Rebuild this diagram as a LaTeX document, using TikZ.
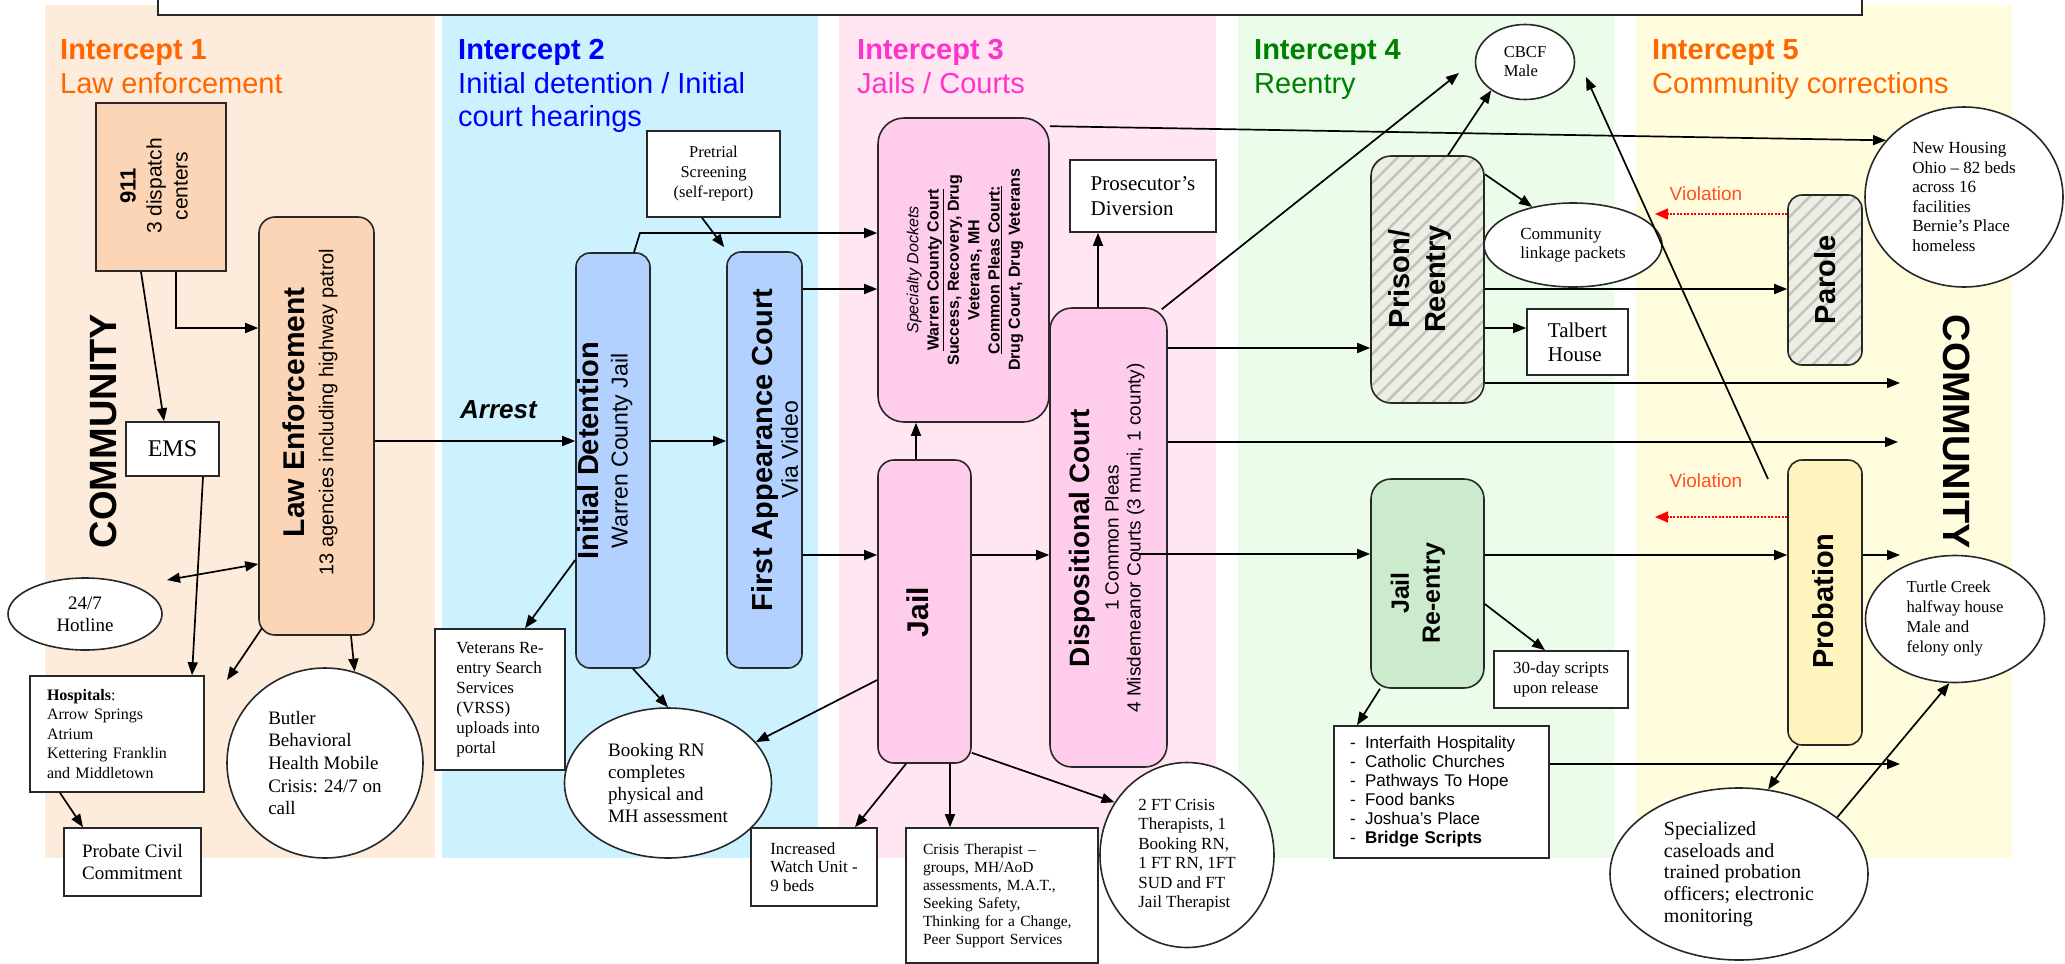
\documentclass[tikz,border=0pt]{standalone}
\usepackage{fontspec}
\setmainfont{Liberation Serif}
\setsansfont{Liberation Sans}
\usetikzlibrary{arrows.meta,shapes.geometric,patterns.meta,calc}
\newcommand{\fsz}[2]{\fontsize{#1}{#2}\selectfont}
\definecolor{bandA}{RGB}{253,235,219}
\definecolor{bandB}{RGB}{204,242,255}
\definecolor{bandC}{RGB}{255,230,242}
\definecolor{bandD}{RGB}{235,252,235}
\definecolor{bandE}{RGB}{255,253,222}
\definecolor{peachbox}{RGB}{251,213,181}
\definecolor{bluebox}{RGB}{179,209,255}
\definecolor{pinkbox}{RGB}{255,204,235}
\definecolor{greenbox}{RGB}{204,235,204}
\definecolor{yellowbox}{RGB}{255,244,190}
\definecolor{hatchbg}{RGB}{236,238,228}
\definecolor{hatchln}{RGB}{195,195,190}
\definecolor{icA}{RGB}{255,102,0}
\definecolor{icB}{RGB}{0,0,255}
\definecolor{icC}{RGB}{255,51,204}
\definecolor{icD}{RGB}{0,128,0}
\definecolor{violred}{RGB}{255,80,30}
\definecolor{lineclr}{RGB}{40,40,40}
\tikzset{
  conn/.style={draw=black, line width=1.7pt, -{Triangle[length=13pt,width=10pt]}},
  dconn/.style={draw=black, line width=1.7pt, {Triangle[length=13pt,width=10pt]}-{Triangle[length=13pt,width=10pt]}},
  vconn/.style={draw=red, line width=1.6pt, dash pattern=on 2pt off 1.5pt, -{Triangle[length=13pt,width=11pt]}},
  tbox/.style={draw=lineclr, line width=1.6pt, fill=white, rectangle, inner sep=0pt, align=left},
  oval/.style={draw=lineclr, line width=1.6pt, fill=white, ellipse, inner sep=0pt, align=left},
  rbox/.style={draw=lineclr, line width=1.6pt, rounded corners=#1, inner sep=0pt},
  rbox/.default=14pt,
  vtext/.style={rotate=90, align=center, inner sep=0pt},
  hatched/.style={preaction={fill=hatchbg}, preaction={pattern color=hatchln, pattern={Lines[angle=45,distance=11pt,line width=2.5pt]}}},
  head/.style={anchor=base west, inner sep=0pt, font=\sffamily\fsz{29}{33}},
}
\begin{document}
\begin{tikzpicture}[x=1pt,y=-1pt]
\useasboundingbox (0,0) rectangle (2065,964);
% bands
\fill[bandA] (45,5) rectangle (435,858);
\fill[bandB] (442,5) rectangle (818,858);
\fill[bandC] (839,5) rectangle (1216,858);
\fill[bandD] (1238,5) rectangle (1614,858);
\fill[bandE] (1636,5) rectangle (2012,858);
% title box (cut off at top)
\draw[draw=lineclr, line width=1.6pt, fill=white] (158,-40) rectangle (1862,15);
% headings
\node[head, text=icA] (h1a) at (60,59) {\bfseries Intercept 1};
\node[head, text=icA] (h1b) at (60,93) {Law enforcement};
\node[head, text=icB] (h2a) at (458,59) {\bfseries Intercept 2};
\node[head, text=icB] (h2b) at (458,93) {Initial detention / Initial};
\node[head, text=icB] (h2c) at (458,126) {court hearings};
\node[head, text=icC] (h3a) at (857,59) {\bfseries Intercept 3};
\node[head, text=icC] (h3b) at (857,93) {Jails / Courts};
\node[head, text=icD] (h4a) at (1254,59) {\bfseries Intercept 4};
\node[head, text=icD] (h4b) at (1254,93) {Reentry};
\node[head, text=icA] (h5a) at (1652,59) {\bfseries Intercept 5};
\node[head, text=icA] (h5b) at (1652,93) {Community corrections};
% community labels
\node[rotate=90, inner sep=0pt, font=\sffamily\bfseries\fsz{38}{40}] (comL) at (103,431) {COMMUNITY};
\node[rotate=-90, inner sep=0pt, font=\sffamily\bfseries\fsz{38}{40}] (comR) at (1957,432) {COMMUNITY};
% Intercept 1
\node[draw=lineclr, line width=1.6pt, fill=peachbox, minimum width=130pt, minimum height=168pt, inner sep=0pt] (n911) at (161,187) {};
\node[vtext, font=\sffamily\fsz{21}{26}] (n911t) at (154,186) {{\bfseries\fsz{22}{26}911}\\3 dispatch\\centers};
\node[rbox=16pt, fill=peachbox, minimum width=115pt, minimum height=418pt] (le) at (316.5,426) {};
\node[vtext, font=\sffamily\fsz{20}{29}] (let) at (310,412) {{\bfseries\fsz{30}{32}Law Enforcement}\\13 agencies including highway patrol};
\node[tbox, font=\fsz{24}{26}, minimum width=93pt, minimum height=54pt, align=center] (ems) at (172.5,449) {EMS};
\node[oval, font=\fsz{19}{22}, minimum width=154pt, minimum height=72pt, align=center] (hotline) at (85,614) {24/7\\Hotline};
\node[tbox, font=\fsz{16}{19.5}, minimum width=174pt, minimum height=116pt, text width=140pt] (hosp) at (117,734) {\textbf{Hospitals}:\\Arrow Springs\\Atrium\\Kettering Franklin\\and Middletown};
\node[tbox, font=\fsz{19}{22}, minimum width=137pt, minimum height=68pt] (probate) at (132.5,862) {Probate Civil\\Commitment};
\node[oval, font=\fsz{19}{22.7}, minimum width=196pt, minimum height=190pt] (butler) at (325,763) {Butler\\Behavioral\\Health Mobile\\Crisis: 24/7 on\\call};
% Intercept 2
\node[tbox, font=\fsz{17}{20}, minimum width=130pt, minimum height=141pt] (vrss) at (500,699.5) {Veterans Re-\\entry Search\\Services\\(VRSS)\\uploads into\\portal};
\node[rbox=14pt, fill=bluebox, minimum width=74pt, minimum height=415pt] (id) at (613,460.5) {};
\node[vtext, font=\sffamily\fsz{23}{29}] (idt) at (605,451) {{\bfseries\fsz{29}{31}Initial Detention}\\Warren County Jail};
\node[rbox=14pt, fill=bluebox, minimum width=75pt, minimum height=416pt] (fac) at (764.5,460) {};
\node[vtext, font=\sffamily\fsz{23}{25}] (fact) at (775,450) {{\bfseries\fsz{29}{31}First Appearance Court}\\Via Video};
\node[tbox, font=\fsz{16.5}{20}, minimum width=133pt, minimum height=86pt, align=center] (pretrial) at (713.5,174) {Pretrial\\Screening\\(self-report)};
\node[oval, font=\fsz{19}{22}, minimum width=207pt, minimum height=150pt] (booking) at (668,783) {Booking RN\\completes\\physical and\\MH assessment};
% Intercept 3
\node[rbox=26pt, fill=pinkbox, minimum width=171pt, minimum height=304pt] (spec) at (963.5,270) {};
\node[vtext, font=\sffamily\bfseries\fsz{16}{20.3}] (spect) at (965,270) {{\mdseries\itshape Specialty Dockets}\\\underline{Warren County Court}\\Success, Recovery, Drug\\Veterans, MH\\\underline{Common Pleas Court:}\\Drug Court, Drug Veterans};
\node[tbox, font=\fsz{21}{25}, minimum width=146pt, minimum height=72pt] (pros) at (1143,196) {Prosecutor’s\\Diversion};
\node[rbox=16pt, fill=pinkbox, minimum width=93pt, minimum height=303pt] (jail) at (924.5,611.5) {};
\node[vtext, font=\sffamily\bfseries\fsz{30}{32}] (jailt) at (918,612) {Jail};
\node[rbox=22pt, fill=pinkbox, minimum width=117pt, minimum height=459pt] (disp) at (1108.5,537.5) {};
\node[vtext, font=\sffamily\fsz{19}{22}] (dispt) at (1107,538) {{\bfseries\fsz{28}{30}Dispositional Court}\\[7pt]1 Common Pleas\\4 Misdemeanor Courts (3 muni, 1 county)};
\node[tbox, font=\fsz{17}{18.5}, minimum width=126pt, minimum height=78pt] (watch) at (814,867) {Increased\\Watch Unit -\\9 beds};
\node[tbox, font=\fsz{15.5}{18}, minimum width=192pt, minimum height=135pt, text width=158pt] (crisis) at (1002,895.5) {Crisis Therapist –\\groups, MH/AoD\\assessments, M.A.T.,\\Seeking Safety,\\Thinking for a Change,\\Peer Support Services};
\node[oval, font=\fsz{17}{19.5}, minimum width=174pt, minimum height=185pt] (twoft) at (1187,855) {2 FT Crisis\\Therapists, 1\\Booking RN,\\1 FT RN, 1FT\\SUD and FT\\Jail Therapist};
% Intercept 4
\node[oval, font=\fsz{16.6}{19}, minimum width=99pt, minimum height=75pt] (cbcf) at (1525,62) {CBCF\\Male};
\node[rbox=20pt, hatched, minimum width=113pt, minimum height=247pt] (prison) at (1427.5,279.5) {};
\node[vtext, font=\sffamily\bfseries\fsz{29}{36}] (prisont) at (1420,279) {Prison/\\Reentry};
\node[oval, font=\fsz{17}{19}, minimum width=178pt, minimum height=84pt] (link) at (1573,245) {Community\\linkage packets};
\node[tbox, font=\fsz{21}{24}, minimum width=101pt, minimum height=66pt] (talbert) at (1577.5,342) {Talbert\\House};
\node[rbox=20pt, fill=greenbox, minimum width=113pt, minimum height=209pt] (jre) at (1427.5,583.5) {};
\node[vtext, font=\sffamily\bfseries\fsz{25}{31}] (jret) at (1418,593) {Jail\\Re-entry};
\node[tbox, font=\fsz{17}{19.5}, minimum width=134pt, minimum height=57pt] (thirty) at (1561,679.5) {30-day scripts\\upon release};
\node[tbox, font=\sffamily\fsz{17}{19}, minimum width=215pt, minimum height=132pt, text width=183pt] (list) at (1441.5,792) {\makebox[15pt][l]{-}Interfaith Hospitality\\\makebox[15pt][l]{-}Catholic Churches\\\makebox[15pt][l]{-}Pathways To Hope\\\makebox[15pt][l]{-}Food banks\\\makebox[15pt][l]{-}Joshua's Place\\\makebox[15pt][l]{-}\textbf{Bridge Scripts}};
% Intercept 5
\node[oval, font=\fsz{17}{19.5}, minimum width=198pt, minimum height=180pt] (newh) at (1964,197) {New Housing\\Ohio – 82 beds\\across 16\\facilities\\Bernie’s Place\\homeless};
\node[rbox=14pt, hatched, minimum width=74pt, minimum height=170pt] (parole) at (1825,280) {};
\node[vtext, font=\sffamily\bfseries\fsz{29}{31}] (parolet) at (1825,280) {Parole};
\node[rbox=14pt, fill=yellowbox, minimum width=74pt, minimum height=285pt] (prob) at (1825,602.5) {};
\node[vtext, font=\sffamily\bfseries\fsz{29}{31}] (probt) at (1823,601) {Probation};
\node[oval, font=\fsz{16.7}{20}, minimum width=179pt, minimum height=127pt] (turtle) at (1955,619) {Turtle Creek\\halfway house\\Male and\\felony only};
\node[oval, font=\fsz{20}{21.7}, minimum width=258pt, minimum height=172pt] (spz) at (1739,874) {Specialized\\caseloads and\\trained probation\\officers; electronic\\monitoring};
\node[inner sep=0pt, text=violred, font=\sffamily\fsz{19}{22}] (viol1) at (1706,194) {Violation};
\node[inner sep=0pt, text=violred, font=\sffamily\fsz{19}{22}] (viol2) at (1706,481) {Violation};
\node[inner sep=0pt, anchor=base west, font=\sffamily\bfseries\itshape\fsz{26}{30}] (arrest) at (460,418) {Arrest};
% free ends
\coordinate (lefree) at (227,680);
\coordinate (hlfree) at (167,580);
\coordinate (cbcfA) at (1459,73);
\coordinate (cbcfB) at (1586,77);
\coordinate (probtop) at (1768,479);
\coordinate (comA) at (1900,383);
\coordinate (comB) at (1898,442);
\coordinate (comC) at (1900,555);
\coordinate (comD) at (1900,764);
\coordinate (v1end) at (1655,214);
\coordinate (v2end) at (1655,517);
\coordinate (idbend) at (640,233);
% connectors
\draw[conn] (n911.south -| 176,0) |- (le.west |- 0,328);
\draw[conn] (n911.south -| 141,0) -- (ems.north -| 164,0);
\draw[conn] (ems.south -| 203,0) -- (hosp.north -| 192,0);
\draw[dconn] (hlfree) -- (le.west |- 0,564);
\draw[conn] ([xshift=4pt,yshift=8pt]le.south west) -- (lefree);
\draw[conn] (le.south -| 351,0) -- (butler.72);
\draw[conn] (hosp.south -| 60,0) -- (probate.north -| 83,0);
\draw[conn] (le.east |- 0,441) -- (id.west |- 0,441);
\draw[conn] (id.west |- 0,560) -- (vrss.north -| 525,0);
\draw[conn] (id.south -| 633,0) -- (booking.north);
\draw[conn] (id.north -| 634,0) -- (idbend) -- (spec.west |- 0,233);
\draw[conn] (pretrial.south -| 702,0) -- ([xshift=-2pt,yshift=4pt]fac.north west);
\draw[conn] (id.east |- 0,441) -- (fac.west |- 0,441);
\draw[conn] (fac.east |- 0,289) -- (spec.west |- 0,289);
\draw[conn] (fac.east |- 0,555) -- (jail.west |- 0,555);
\draw[conn] (jail.north -| 916,0) -- (spec.south -| 916,0);
\draw[conn] (jail.east |- 0,555) -- (disp.west |- 0,555);
\draw[conn] (jail.west |- 0,680) -- (booking.25);
\draw[conn] (jail.south -| 906,0) -- (watch.north -| 855,0);
\draw[conn] (jail.south -| 950,0) -- (crisis.north -| 950,0);
\draw[conn] ([yshift=11pt]jail.south east) -- (twoft.144);
\draw[conn] (disp.north -| 1098,0) -- (pros.south -| 1098,0);
\draw[conn] ([xshift=-6pt,yshift=-2pt]disp.north east) -- (cbcfA);
\draw[conn] ([yshift=-9pt]spec.north east) -- (newh.144);
\draw[conn] (disp.east |- 0,348) -- (prison.west |- 0,348);
\draw[conn] (disp.east |- 0,442) -- (comB);
\draw[conn] ($(disp.east |- 0,554)+(-29,0)$) -- (jre.west |- 0,554);
\draw[conn] (prison.north -| 1448,0) -- (cbcf.220);
\draw[conn] ([yshift=-19pt]prison.north east) -- (link.137);
\draw[conn] (prison.east |- 0,289) -- (parole.west |- 0,289);
\draw[conn] (prison.east |- 0,328) -- (talbert.west |- 0,328);
\draw[conn] (prison.east |- 0,383) -- (comA);
\draw[conn] (jre.east |- 0,555) -- (prob.west |- 0,555);
\draw[conn] (prob.east |- 0,555) -- (comC);
\draw[conn] (jre.east |- 0,604) -- (thirty.north -| 1545,0);
\draw[conn] (jre.south -| 1380,0) -- (list.north -| 1357,0);
\draw[conn] (list.east |- 0,764) -- (comD);
\draw[conn] (prob.south -| 1798,0) -- (spz.71);
\draw[conn] (spz.30) -- (turtle.265);
\draw[conn] (probtop) -- (cbcfB);
\draw[vconn] (parole.west |- 0,214) -- (v1end);
\draw[vconn] (prob.west |- 0,517) -- (v2end);
\end{tikzpicture}
\end{document}
